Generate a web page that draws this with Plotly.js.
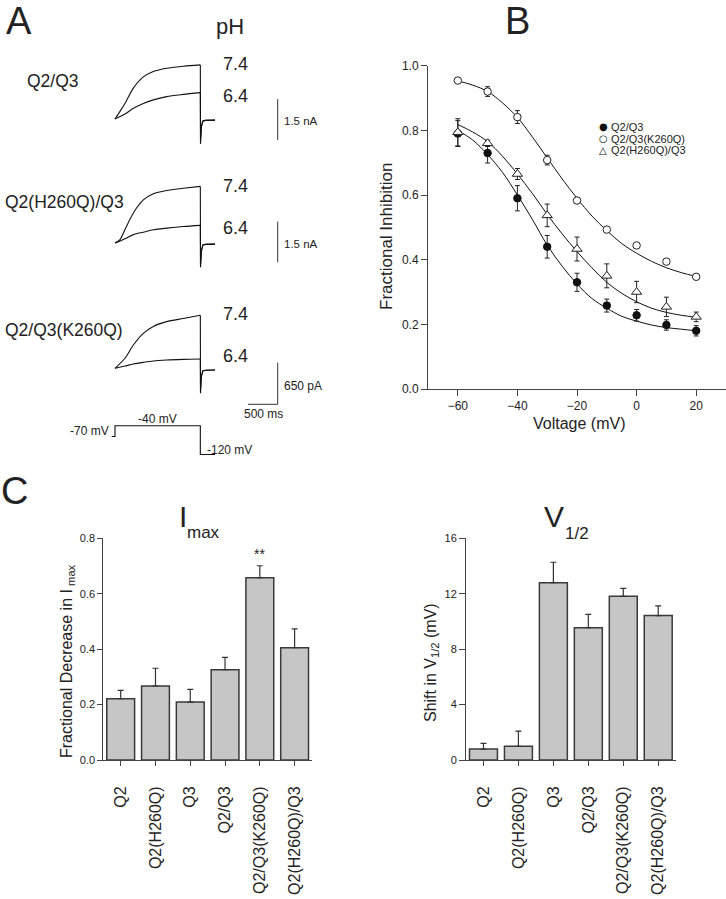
<!DOCTYPE html>
<html>
<head>
<meta charset="utf-8">
<script src="https://cdn.plot.ly/plotly-3.0.1.min.js"></script>
<style>html,body{margin:0;padding:0;background:#fff;}#chart{width:726px;height:899px;}</style>
</head>
<body>
<div id="chart"></div>
<script>
// ---------------- DATA ----------------
// Panel B: fractional inhibition vs voltage
const voltage = [-60, -50, -40, -30, -20, -10, 0, 10, 20];
const inhQ2Q3 = [0.79, 0.73, 0.59, 0.44, 0.33, 0.258, 0.228, 0.198, 0.18];
const errQ2Q3 = [0.04, 0.031, 0.039, 0.035, 0.028, 0.02, 0.018, 0.016, 0.016];
const inhK260Q = [0.954, 0.92, 0.841, 0.708, 0.583, 0.493, 0.444, 0.394, 0.347];
const errK260Q = [0.005, 0.015, 0.02, 0.015, 0.005, 0.005, 0.008, 0.005, 0.005];
const inhH260Q = [0.794, 0.76, 0.665, 0.537, 0.433, 0.35, 0.30, 0.254, 0.223];
const errH260Q = [0.042, 0.01, 0.017, 0.035, 0.037, 0.037, 0.033, 0.03, 0.015];
// fitted curves, every 5 mV
const fitVoltage = [-60, -55, -50, -45, -40, -35, -30, -25, -20, -15, -10, -5, 0, 5, 10, 15, 20];
const fitQ2Q3 = [0.80, 0.77, 0.725, 0.67, 0.60, 0.525, 0.445, 0.38, 0.325, 0.28, 0.25, 0.225, 0.21, 0.198, 0.19, 0.185, 0.18];
const fitK260Q = [0.953, 0.94, 0.92, 0.885, 0.84, 0.78, 0.715, 0.65, 0.59, 0.535, 0.49, 0.45, 0.42, 0.395, 0.375, 0.36, 0.348];
const fitH260Q = [0.818, 0.795, 0.765, 0.72, 0.665, 0.605, 0.54, 0.48, 0.425, 0.375, 0.33, 0.296, 0.27, 0.25, 0.237, 0.228, 0.222];
const legendNames = ['Q2/Q3', 'Q2/Q3(K260Q)', 'Q2(H260Q)/Q3'];

// Panel C
const constructs = ['Q2', 'Q2(H260Q)', 'Q3', 'Q2/Q3', 'Q2/Q3(K260Q)', 'Q2(H260Q)/Q3'];
const imaxDecrease = [0.221, 0.267, 0.209, 0.326, 0.658, 0.405];
const imaxErr = [0.030, 0.064, 0.046, 0.044, 0.043, 0.068];
const v12Shift = [0.79, 0.99, 12.8, 9.55, 11.81, 10.42];
const v12Err = [0.41, 1.1, 1.47, 0.96, 0.58, 0.70];

// Panel A: current traces (time in ms, current in nA)
const riseTime = [0, 84, 168, 309, 477, 645, 870, 1151, 1437];
const riseTime2 = [0, 168, 309, 477, 645, 870, 1151, 1437];
const tailTime = [1437, 1440, 1455, 1480, 1520, 1684];
const g1pH74 = [0, 0.28, 0.57, 1.13, 1.54, 1.74, 1.86, 1.93, 1.98];
const g1pH64 = [0, 0.18, 0.39, 0.57, 0.70, 0.82, 0.90, 0.965];
const g1tail74 = [1.98, -0.91, -0.30, -0.08, -0.05, -0.04];
const g1tail64 = [0.965, -0.75, -0.25, -0.07, -0.05, -0.04];
const g2pH74 = [0, 0.125, 0.50, 1.11, 1.59, 1.82, 1.94, 2.02, 2.09];
const g2pH64 = [0, 0.16, 0.31, 0.40, 0.49, 0.55, 0.61, 0.65];
const g2tail74 = [2.09, -0.90, -0.30, -0.08, -0.05, -0.04];
const g2tail64 = [0.65, -0.80, -0.27, -0.07, -0.05, -0.04];
const g3pH74 = [0, 0.157, 0.364, 0.546, 0.654, 0.729, 0.778, 0.828];
const g3pH64 = [0, 0.036, 0.067, 0.093, 0.115, 0.130, 0.140, 0.146];
const g3tail74 = [0.828, -0.39, -0.13, -0.04, -0.03, -0.026];
const g3tail64 = [0.146, -0.33, -0.11, -0.04, -0.03, -0.026];
// Voltage protocol
const protoTime = [-55, 0, 0, 1437, 1437, 1684];
const protoMv = [-70, -70, -40, -40, -120, -120];
const groupLabels = ['Q2/Q3', 'Q2(H260Q)/Q3', 'Q2/Q3(K260Q)'];
const pHLabels = ['7.4', '6.4'];

// ---------------- HELPERS ----------------
const W = 726, H = 899;
const X = p => p / W;
const Y = p => 1 - p / H;
const FONT = 'Liberation Sans, Arial, Helvetica, sans-serif';
const INK = '#222';
const AX = '#444';

function ann(text, x, y, size, opt) {
  return Object.assign({
    text: text, x: X(x), y: Y(y), xref: 'paper', yref: 'paper',
    xanchor: 'center', yanchor: 'middle', showarrow: false,
    font: {family: FONT, size: size, color: INK}
  }, opt || {});
}

// panel A y-axis domain/range from pixel layout (top,bottom px; baseline px; px per unit)
function yAxisA(topPx, botPx, basePx, pxPerUnit) {
  return {
    domain: [Y(botPx), Y(topPx)],
    range: [(basePx - botPx) / pxPerUnit, (basePx - topPx) / pxPerUnit],
    visible: false, fixedrange: true, anchor: 'x4'
  };
}
const msPerPx = 16.84;
const t0Px = 115;

const traces = [];
const blk = {color: '#111', width: 1.1};
function addA(t, v, ya, shape) {
  traces.push({x: t, y: v, xaxis: 'x4', yaxis: ya, type: 'scatter', mode: 'lines',
    line: Object.assign({shape: shape, smoothing: 0.8}, blk), hoverinfo: 'skip', showlegend: false});
}
addA(riseTime, g1pH74, 'y4', 'spline');
addA(riseTime2, g1pH64, 'y4', 'spline');
addA(tailTime, g1tail74, 'y4', 'linear');
addA(tailTime, g1tail64, 'y4', 'linear');
addA(riseTime, g2pH74, 'y5', 'spline');
addA(riseTime2, g2pH64, 'y5', 'spline');
addA(tailTime, g2tail74, 'y5', 'linear');
addA(tailTime, g2tail64, 'y5', 'linear');
addA(riseTime2, g3pH74, 'y6', 'spline');
addA(riseTime2, g3pH64, 'y6', 'spline');
addA(tailTime, g3tail74, 'y6', 'linear');
addA(tailTime, g3tail64, 'y6', 'linear');
addA(protoTime, protoMv, 'y7', 'linear');

// Panel B
function errObj(arr) { return {type: 'data', array: arr, visible: true, color: '#222', thickness: 1, width: 2.5}; }
traces.push({x: fitVoltage, y: fitQ2Q3, type: 'scatter', mode: 'lines', line: {color: '#111', width: 1, shape: 'spline'}, showlegend: false, hoverinfo: 'skip'});
traces.push({x: fitVoltage, y: fitK260Q, type: 'scatter', mode: 'lines', line: {color: '#111', width: 1, shape: 'spline'}, showlegend: false, hoverinfo: 'skip'});
traces.push({x: fitVoltage, y: fitH260Q, type: 'scatter', mode: 'lines', line: {color: '#111', width: 1, shape: 'spline'}, showlegend: false, hoverinfo: 'skip'});
traces.push({x: voltage, y: inhQ2Q3, name: legendNames[0], type: 'scatter', mode: 'markers', error_y: errObj(errQ2Q3),
  marker: {symbol: 'circle', size: 7.5, color: '#111', line: {color: '#111', width: 1}}, showlegend: false});
traces.push({x: voltage, y: inhK260Q, name: legendNames[1], type: 'scatter', mode: 'markers', error_y: errObj(errK260Q),
  marker: {symbol: 'circle', size: 7.5, color: '#fff', line: {color: '#222', width: 1}}, showlegend: false});
traces.push({x: voltage, y: inhH260Q, name: legendNames[2], type: 'scatter', mode: 'markers', error_y: errObj(errH260Q),
  marker: {symbol: 'triangle-up', size: 9, color: '#fff', line: {color: '#222', width: 1}}, showlegend: false});

// Panel C
const barStyle = {color: '#c6c6c6', line: {color: '#3a3a3a', width: 1.5}};
function upErr(arr) { return {type: 'data', symmetric: false, array: arr, arrayminus: arr.map(() => 0), visible: true, color: '#333', thickness: 1.2, width: 3}; }
traces.push({x: constructs, y: imaxDecrease, type: 'bar', xaxis: 'x2', yaxis: 'y2', marker: barStyle, error_y: upErr(imaxErr), showlegend: false});
traces.push({x: constructs, y: v12Shift, type: 'bar', xaxis: 'x3', yaxis: 'y3', marker: barStyle, error_y: upErr(v12Err), showlegend: false});

const axBase = {showline: true, linecolor: AX, linewidth: 1, ticks: 'outside', tickcolor: AX, tickwidth: 1,
  showgrid: false, zeroline: false, fixedrange: true};

const symFont = {family: 'DejaVu Sans, sans-serif', size: 10, color: '#111'};

const layout = {
  width: W, height: H, margin: {l: 0, r: 0, t: 0, b: 0},
  paper_bgcolor: '#fff', plot_bgcolor: 'rgba(0,0,0,0)', showlegend: false,
  font: {family: FONT, color: INK}, bargap: 0.2,
  xaxis: Object.assign({}, axBase, {domain: [X(428), 1], range: [-70, 30], tickvals: [-60, -40, -20, 0, 20],
    ticklen: 6, tickfont: {size: 12, family: FONT, color: INK}, anchor: 'y'}),
  yaxis: Object.assign({}, axBase, {domain: [Y(389), Y(65.7)], range: [0, 1], dtick: 0.2, tickformat: '.1f',
    ticklen: 6, tickfont: {size: 12, family: FONT, color: INK}, anchor: 'x'}),
  xaxis2: Object.assign({}, axBase, {domain: [X(103.3), X(312)], range: [-0.5, 5.5], type: 'category',
    ticklen: 5, tickangle: -90, ticklabelstandoff: 14, tickfont: {size: 16, family: FONT, color: INK}, anchor: 'y2'}),
  yaxis2: Object.assign({}, axBase, {domain: [Y(760), Y(538.3)], range: [0, 0.8], dtick: 0.2, tickformat: '.1f',
    ticklen: 5, tickfont: {size: 11, family: FONT, color: INK}, anchor: 'x2'}),
  xaxis3: Object.assign({}, axBase, {domain: [X(466), X(675.7)], range: [-0.5, 5.5], type: 'category',
    ticklen: 5, tickangle: -90, ticklabelstandoff: 14, tickfont: {size: 16, family: FONT, color: INK}, anchor: 'y3'}),
  yaxis3: Object.assign({}, axBase, {domain: [Y(760), Y(538.3)], range: [0, 16], dtick: 4,
    ticklen: 6, tickfont: {size: 11, family: FONT, color: INK}, anchor: 'x3'}),
  xaxis4: {domain: [0, X(300)], range: [(0 - t0Px) * msPerPx, (300 - t0Px) * msPerPx], visible: false, fixedrange: true, anchor: 'y4'},
  yaxis4: yAxisA(40, 160, 119, 27.33),
  yaxis5: yAxisA(165, 290, 243, 27.07),
  yaxis6: yAxisA(295, 420, 368.3, 64),
  yaxis7: {domain: [Y(470), Y(415)], range: [-40 - (470 - 425.7) / 0.36, -40 + (425.7 - 415) / 0.36], visible: false, fixedrange: true, anchor: 'x4'},
  shapes: [
    {type: 'line', xref: 'x4', yref: 'y4', x0: 2740, x1: 2740, y0: -0.77, y1: 0.73, line: {color: '#333', width: 1}},
    {type: 'line', xref: 'x4', yref: 'y5', x0: 2740, x1: 2740, y0: -0.71, y1: 0.79, line: {color: '#333', width: 1}},
    {type: 'line', xref: 'x4', yref: 'y6', x0: 2740, x1: 2740, y0: -0.5625, y1: 0.0875, line: {color: '#333', width: 1}},
    {type: 'line', xref: 'x4', yref: 'y6', x0: 2240, x1: 2740, y0: -0.5625, y1: -0.5625, line: {color: '#333', width: 1}}
  ],
  annotations: [
    ann('A', 19, 21, 38),
    ann('B', 517, 21, 38),
    ann('C', 14, 491, 38),
    ann('pH', 230, 26, 22),
    ann(groupLabels[0], 25, 81, 17.5, {xanchor: 'left'}),
    ann(groupLabels[1], 3, 202, 17.5, {xanchor: 'left'}),
    ann(groupLabels[2], 3, 330, 17.5, {xanchor: 'left'}),
    ann(pHLabels[0], 221, 64, 18, {xanchor: 'left'}),
    ann(pHLabels[1], 221, 96, 18, {xanchor: 'left'}),
    ann(pHLabels[0], 221, 186.5, 18, {xanchor: 'left'}),
    ann(pHLabels[1], 221, 227.5, 18, {xanchor: 'left'}),
    ann(pHLabels[0], 221, 314.5, 18, {xanchor: 'left'}),
    ann(pHLabels[1], 221, 356, 18, {xanchor: 'left'}),
    ann('1.5 nA', 282, 121, 11.5, {xanchor: 'left'}),
    ann('1.5 nA', 282, 244, 11.5, {xanchor: 'left'}),
    ann('650 pA', 282, 386, 12, {xanchor: 'left'}),
    ann('500 ms', 263, 414, 12),
    ann('-70 mV', 111, 431, 12, {xanchor: 'right'}),
    ann('-40 mV', 157, 419, 12),
    ann('-120 mV', 205, 450, 12, {xanchor: 'left'}),
    // panel B titles + legend
    ann('Fractional Inhibition', 386.5, 236.5, 17, {textangle: -90}),
    ann('Voltage (mV)', 578.5, 423, 16),
    ann('●', 603, 127, 10, {font: symFont}),
    ann('○', 603, 138.5, 10, {font: symFont}),
    ann('△', 603, 150, 10, {font: symFont}),
    ann(legendNames[0], 609, 127, 11, {xanchor: 'left'}),
    ann(legendNames[1], 609, 138.5, 11, {xanchor: 'left'}),
    ann(legendNames[2], 609, 150, 11, {xanchor: 'left'}),
    // panel C titles
    ann('I', 183, 516, 30),
    ann('max', 203, 532.5, 17),
    ann('V', 554, 516, 30),
    ann('1/2', 576.5, 533, 17),
    ann('Fractional Decrease in I<sub> max</sub>', 67, 661, 16, {textangle: -90}),
    ann('Shift in V<sub>1/2</sub> (mV)', 431, 662, 16, {textangle: -90}),
    {text: '**', x: constructs[4], y: 0.745, xref: 'x2', yref: 'y2', showarrow: false,
      xanchor: 'center', yanchor: 'middle', font: {family: FONT, size: 14, color: INK}}
  ]
};

Plotly.newPlot('chart', traces, layout, {displayModeBar: false, staticPlot: true});
</script>
</body>
</html>
